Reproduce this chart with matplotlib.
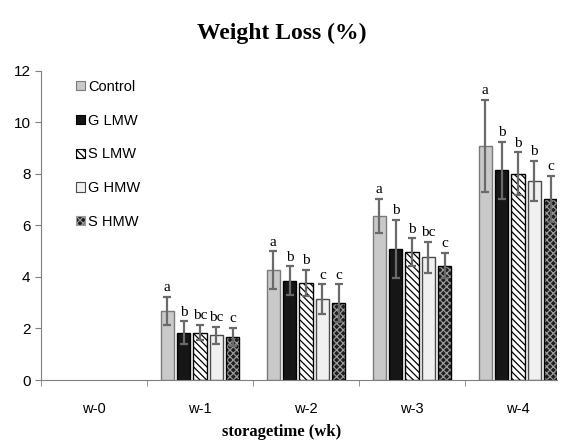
import matplotlib
matplotlib.use("Agg")
import matplotlib.pyplot as plt
import numpy as np
from matplotlib.patches import Patch

#--------------------------------------------------
#datos

semanas = ["w-0", "w-1", "w-2", "w-3", "w-4"]
tratamientos = ["Control", "G LMW", "S LMW", "G HMW", "S HMW"]

# w-0 sin datos (0)
control = [0, 2.67, 4.26, 6.38, 9.07]
g_lmw = [0, 1.84, 3.86, 5.08, 8.13]
s_lmw = [0, 1.84, 3.77, 4.95, 8.00]
g_hmw = [0, 1.73, 3.14, 4.76, 7.73]
s_hmw = [0, 1.67, 2.98, 4.44, 7.02]

err_control = [0, 0.55, 0.73, 0.66, 1.79]
err_g_lmw = [0, 0.43, 0.55, 1.12, 1.10]
err_s_lmw = [0, 0.30, 0.50, 0.54, 0.83]
err_g_hmw = [0, 0.32, 0.57, 0.61, 0.77]
err_s_hmw = [0, 0.35, 0.73, 0.50, 0.90]

letras_control = ["", "a", "a", "a", "a"]
letras_g_lmw = ["", "b", "b", "b", "b"]
letras_s_lmw = ["", "bc", "b", "b", "b"]
letras_g_hmw = ["", "bc", "c", "bc", "b"]
letras_s_hmw = ["", "c", "c", "c", "c"]

#--------------------------------------------------
#estilos

estilos = [
    dict(facecolor="#c9c9c9", edgecolor="#7a7a7a", hatch=None),
    dict(facecolor="#161616", edgecolor="#000000", hatch=None),
    dict(facecolor="#ffffff", edgecolor="#000000", hatch="\\\\\\\\\\"),
    dict(facecolor="#f0f0f0", edgecolor="#4a4a4a", hatch=None),
    dict(facecolor="#1e1e1e", edgecolor="#9a9a9a", hatch="xxxxx"),
]

sans = ["Liberation Sans", "DejaVu Sans"]
serif = ["Liberation Serif", "DejaVu Serif"]

plt.rcParams["hatch.linewidth"] = 0.9

valores = [control, g_lmw, s_lmw, g_hmw, s_hmw]
errores = [err_control, err_g_lmw, err_s_lmw, err_g_hmw, err_s_hmw]
letras = [letras_control, letras_g_lmw, letras_s_lmw, letras_g_hmw, letras_s_hmw]

#--------------------------------------------------
#grafico

fig = plt.figure(figsize=(5.64, 4.41), dpi=100)
ax = fig.add_axes([41/564, 61/441, 516/564, 309.3/441])

x = np.arange(len(semanas))
paso = 0.154
ancho = 0.128

for i in range(len(tratamientos)):
    v = np.array(valores[i])
    e = np.array(errores[i])
    hay = v > 0  # w-0 no se dibuja
    pos = (x + (i - 2) * paso)[hay]
    v = v[hay]
    e = e[hay]
    est = estilos[i]
    if est["hatch"] is not None:
        ax.bar(pos, v, width=ancho, color=est["facecolor"],
               edgecolor=est["edgecolor"] if i == 4 else "#000000",
               hatch=est["hatch"], linewidth=0, zorder=2)
        ax.bar(pos, v, width=ancho, facecolor="none",
               edgecolor="#000000", linewidth=1.0, zorder=3)
    else:
        ax.bar(pos, v, width=ancho, color=est["facecolor"],
               edgecolor=est["edgecolor"], linewidth=1.0, zorder=2)
    ax.errorbar(pos, v, yerr=e, fmt="none", ecolor="#6a6a6a",
                elinewidth=1.6, capsize=3, capthick=1.6, zorder=4)
    for p, vv, ee, l in zip(pos, v, e, np.array(letras[i])[hay]):
        ax.annotate(l, (p, vv + ee), xytext=(0, 2), textcoords="offset points",
                    ha="center", va="bottom", fontsize=11, family=serif)

ax.set_xlim(-0.5, 4.368)
ax.set_ylim(0, 12)
ax.set_yticks(range(0, 13, 2))
ax.set_xticks(x)
ax.set_xticklabels(semanas, family=sans, fontsize=10.5)
ax.set_xticks(np.arange(-0.5, 4.5, 1), minor=True)
ax.tick_params(axis="x", which="major", length=0, pad=16)
ax.tick_params(axis="x", which="minor", length=4, color="#808080")
ax.tick_params(axis="y", length=4, color="#808080", labelsize=11)
for t in ax.get_yticklabels():
    t.set_family(sans)

for s in ["top", "right"]:
    ax.spines[s].set_visible(False)
for s in ["left", "bottom"]:
    ax.spines[s].set_color("#808080")

handles = [Patch(facecolor=e["facecolor"],
                 edgecolor=e["edgecolor"] if e["hatch"] is None or i == 4 else "#000000",
                 hatch=e["hatch"], linewidth=0.8) for i, e in enumerate(estilos)]
ax.legend(handles, tratamientos, loc="upper left", bbox_to_anchor=(0.068, 0.971),
          borderpad=0, borderaxespad=0, frameon=False, handlelength=0.6,
          handleheight=0.6, handletextpad=0.25, labelspacing=1.36,
          prop={"family": sans, "size": 10.5})

fig.text(0.5, 0.925, "Weight Loss (%)", ha="center", va="center",
         family=serif, weight="bold", fontsize=17)
fig.text(0.5, 0.02, "storagetime (wk)", ha="center", va="center",
         family=serif, weight="bold", fontsize=12)

plt.savefig("out.png", dpi=100)
